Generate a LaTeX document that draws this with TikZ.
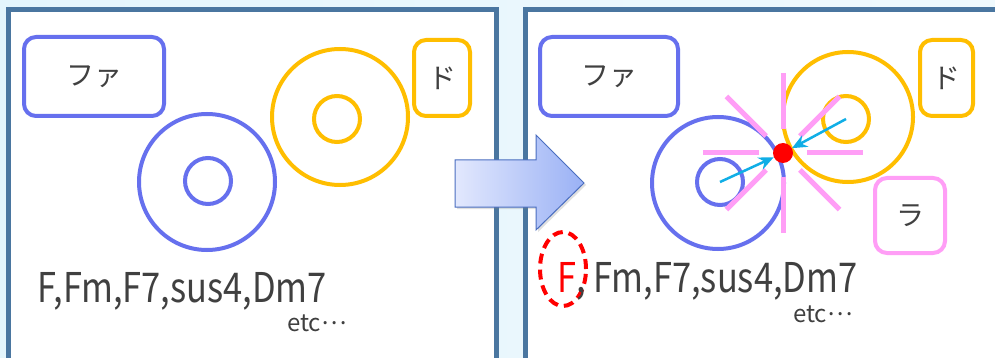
\documentclass[tikz,border=0pt]{standalone}
\usepackage{fontspec}
\setmainfont{Noto Sans CJK JP}
\newfontfamily\chordfont[FakeStretch=0.84]{Noto Sans CJK JP}
\usetikzlibrary{shapes.geometric,arrows.meta,shadows}
\definecolor{fablue}{HTML}{6670EE}
\definecolor{doyellow}{HTML}{FFBE00}
\definecolor{lapink}{HTML}{FF9EF6}
\definecolor{frame}{HTML}{4A76A0}
\definecolor{bgcyan}{HTML}{E4F5FC}
\definecolor{txt}{HTML}{404040}
\definecolor{arrowcyan}{HTML}{10AEE6}
\definecolor{arrowlight}{HTML}{E2E8FD}
\definecolor{arrowdark}{HTML}{9AB1F5}
\definecolor{arrowedge}{HTML}{4A6EC0}

\begin{document}
\begin{tikzpicture}[x=1pt,y=-1pt]
    \tikzset{%
      box/.style={draw, rounded corners=12pt, line width=4pt, text=txt,
        font=\fontsize{28}{30}\selectfont},
      ring/.style={circle, draw, line width=4pt, inner sep=0pt},
      panel/.style={draw=frame, fill=white, line width=5pt},
      chord/.style={anchor=base west, inner sep=0pt, text=txt,
        font=\chordfont\fontsize{41}{44}\selectfont},
      etc/.style={anchor=base west, inner sep=0pt, text=txt, text height=14pt,
        text depth=0pt, font=\fontsize{24}{26}\selectfont},
      ray/.style={lapink, line width=5pt},
      hit/.style={circle, fill=red, inner sep=0pt, minimum size=20pt},
      pull/.style={arrowcyan, line width=2.5pt,
        -{Stealth[length=15pt,width=13pt]}},
    }
    \useasboundingbox (0,0) rectangle (995,358);
    \clip (0,0) rectangle (995,358);
    \fill[left color=bgcyan, right color=bgcyan!60!white] (0,0) rectangle (995,358);

    \draw[panel] (8,9.5) rectangle (496.5,375);
    \draw[panel] (525.5,9.5) rectangle (1010,375);

    % before
    \node[box, draw=fablue, minimum width=140pt, minimum height=79pt] (FA0) at (94,76.5) {ファ};
    \node[box, draw=doyellow, minimum width=56pt, minimum height=76pt] (DO0) at (442,78) {ド};

    \node[ring, draw=fablue, minimum size=136pt] (Fb0) at (207,182) {};
    \node[ring, draw=fablue, minimum size=46pt] (Fs0) at (208,181) {};
    \node[ring, draw=doyellow, minimum size=136pt] (Db0) at (340,117) {};
    \node[ring, draw=doyellow, minimum size=46pt] (Ds0) at (337,119) {};

    \node[chord] (C0) at (37,302) {F,Fm,F7,sus4,Dm7};
    \node[etc] (E0) at (287,331) {etc\raisebox{.28em}{…}};

    % the big arrow
    \shade[left color=arrowlight, right color=arrowdark, draw=arrowedge,
      line width=1pt, drop shadow={opacity=0.25, shadow xshift=2pt, shadow yshift=-2pt}]
      (455,160) -- (536,160) -- (536,135) -- (584,183) -- (536,230) -- (536,207)
      -- (455,207) -- cycle;

    % after
    \node[box, draw=fablue, minimum width=138pt, minimum height=79pt] (FA1) at (609,76.5) {ファ};
    \node[box, draw=doyellow, minimum width=53pt, minimum height=76pt] (DO1) at (946.5,78) {ド};
    \node[box, draw=lapink, minimum width=70pt, minimum height=75pt] (LA1) at (910,215.5) {ラ};

    \node[ring, draw=fablue, minimum size=132pt] (Fb1) at (718,183) {};
    \node[ring, draw=fablue, minimum size=46pt] (Fs1) at (720,182) {};
    \node[ring, draw=doyellow, minimum size=130pt] (Db1) at (848,117) {};
    \node[ring, draw=doyellow, minimum size=46pt] (Ds1) at (846,119) {};

    \node[hit] (H) at (783,153) {};
    \foreach \a in {0,45,...,315}
      \draw[ray] (H.center) ++(\a:24) -- ++(\a:56);
    \draw[pull] (Fs1.center) -- (H);
    \draw[pull] (Ds1.center) -- (H);

    \node[ellipse, draw=red, dash pattern=on 10pt off 6pt, line width=4pt, minimum width=46pt,
      minimum height=74pt] (Fmark) at (563,269) {};
    \node[chord, text=red] (F1) at (557,292) {F};
    \node[chord] (C1) at (576,292) {, Fm,F7,sus4,Dm7};
    \node[etc] (E1) at (793,322) {etc\raisebox{.28em}{…}};
\end{tikzpicture}
\end{document}
